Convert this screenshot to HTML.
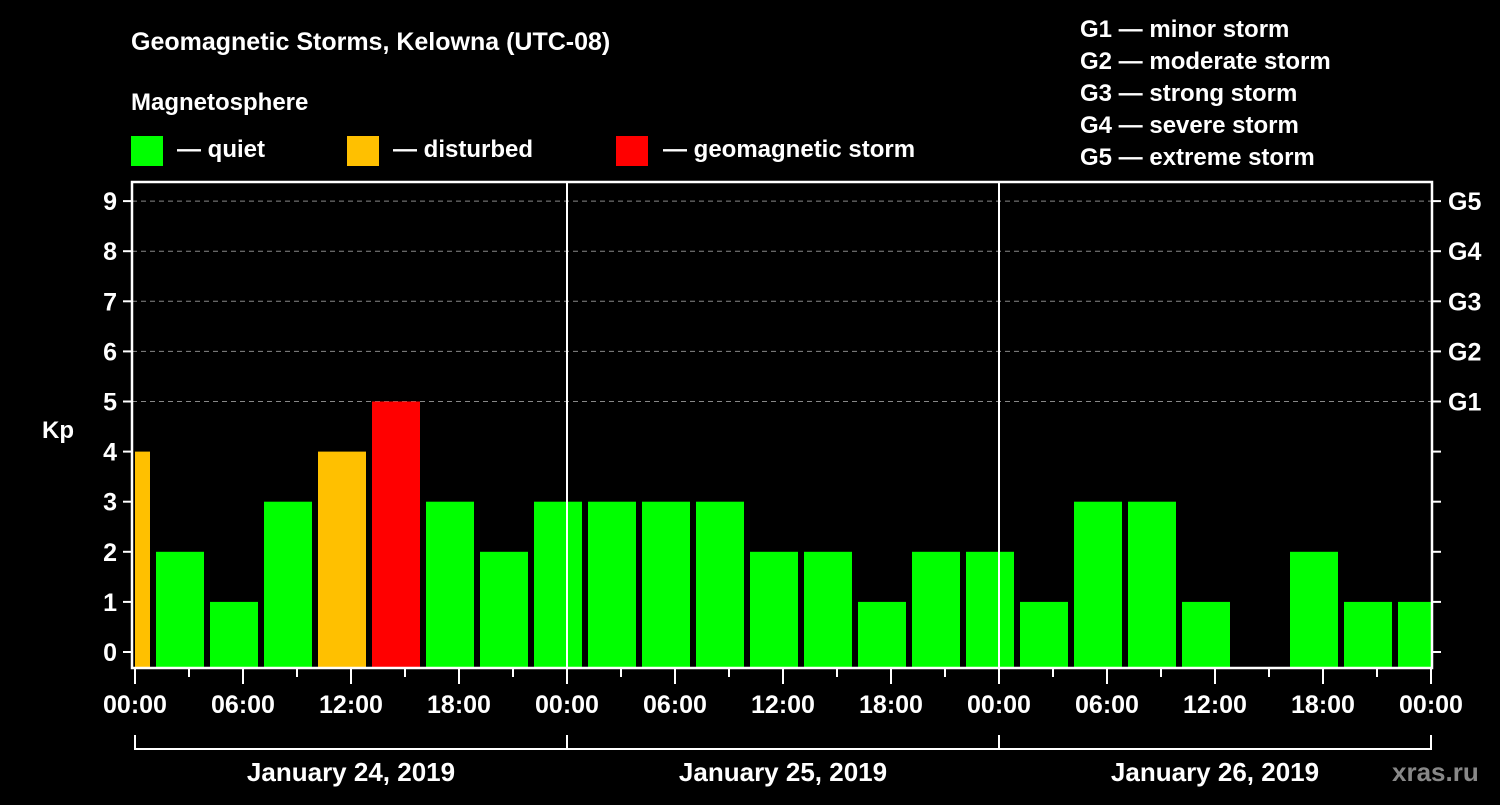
<!DOCTYPE html>
<html><head><meta charset="utf-8"><style>
body{margin:0;background:#000;width:1500px;height:800px;overflow:hidden}
svg text{font-family:"Liberation Sans",Arial,sans-serif;font-weight:bold;fill:#fff}
</style></head><body>
<svg id="chart" width="1500" height="800" viewBox="0 0 1500 800" xmlns="http://www.w3.org/2000/svg">
<rect width="1500" height="800" fill="#000"/>
<text x="131" y="50" font-size="25">Geomagnetic Storms, Kelowna (UTC-08)</text>
<text x="131" y="110" font-size="24">Magnetosphere</text>
<g>
<rect x="131" y="136" width="32" height="30" fill="#00ff00"/>
<text x="177" y="157" font-size="24">— quiet</text>
<rect x="347" y="136" width="32" height="30" fill="#ffc000"/>
<text x="393" y="157" font-size="24">— disturbed</text>
<rect x="616" y="136" width="32" height="30" fill="#ff0000"/>
<text x="663" y="157" font-size="24">— geomagnetic storm</text>
</g>
<g font-size="24">
<text x="1080" y="37">G1 — minor storm</text>
<text x="1080" y="69">G2 — moderate storm</text>
<text x="1080" y="101">G3 — strong storm</text>
<text x="1080" y="133">G4 — severe storm</text>
<text x="1080" y="165">G5 — extreme storm</text>
</g>
<text x="42" y="438" font-size="24">Kp</text>
<text x="1392" y="781" font-size="26" style="fill:#888">xras.ru</text>
<g id="plot"></g>
</svg>
<script>
const kpValues=[4,2,1,3,4,5,3,2,3,3,3,3,2,2,1,2,2,1,3,3,1,0,2,1,1];
const yTicks=[0,1,2,3,4,5,6,7,8,9];
const gLabels=["G1","G2","G3","G4","G5"];
const gLevels=[5,6,7,8,9];
const hourLabels=["00:00","06:00","12:00","18:00"];
const dayLabels=["January 24, 2019","January 25, 2019","January 26, 2019"];
const firstBarStartHour=-2;

const NS="http://www.w3.org/2000/svg";
const plot=document.getElementById('plot');
const L=132,R=1432,T=182,B=668,X0=135,PXH=18;
const xh=h=>X0+h*PXH;
const yk=k=>652-k*50.1;
function mk(tag,attrs,parent){const e=document.createElementNS(NS,tag);for(const k in attrs)e.setAttribute(k,attrs[k]);(parent||plot).appendChild(e);return e;}
const col=k=>k>=5?"#ff0000":(k>=4?"#ffc000":"#00ff00");
// grid
gLevels.forEach(k=>{const l=mk('line',{x1:L,x2:R,y1:yk(k),y2:yk(k),stroke:"#888","stroke-width":1,"stroke-dasharray":"5,4"});

});
// bars
const clip=mk('clipPath',{id:'pc'});mk('rect',{x:X0,y:T,width:1431-X0,height:B-T},clip);
const bg=mk('g',{'clip-path':'url(#pc)'});
kpValues.forEach((k,i)=>{if(k<=0)return;const h0=firstBarStartHour+i*3;
const x=xh(h0)+3,w=3*PXH-6,y=yk(k);
const r=mk('rect',{x:x,y:y,width:w,height:B-1-y,fill:col(k)},bg);

});
// day separators
[1,2].forEach(d=>{const l=mk('line',{x1:xh(d*24),x2:xh(d*24),y1:T,y2:B,stroke:"#fff","stroke-width":2});

});
// frame
const f=mk('rect',{x:L,y:T,width:R-L,height:B-T,fill:"none",stroke:"#fff","stroke-width":2.5});


// y ticks
yTicks.forEach(k=>{mk('line',{x1:L-9,x2:L,y1:yk(k),y2:yk(k),stroke:"#fff","stroke-width":2});
mk('line',{x1:R,x2:R+9,y1:yk(k),y2:yk(k),stroke:"#fff","stroke-width":2});
const t=mk('text',{x:L-15,y:yk(k)+9,"font-size":25,"text-anchor":"end"});t.textContent=k;

});
gLabels.forEach((g,i)=>{const t=mk('text',{x:1448,y:yk(gLevels[i])+9,"font-size":25});t.textContent=g;

});
// x ticks
for(let h=0;h<=72;h+=3){const major=h%6===0;
mk('line',{x1:xh(h),x2:xh(h),y1:B,y2:B+(major?16:9),stroke:"#fff","stroke-width":2});
if(major){const t=mk('text',{x:xh(h),y:B+45,"font-size":25,"text-anchor":"middle"});t.textContent=hourLabels[(h/6)%4];

}}
// day brackets
dayLabels.forEach((d,i)=>{const a=xh(i*24),b=xh((i+1)*24);
mk('path',{d:`M${a},735 V749 H${b} V735`,fill:"none",stroke:"#fff","stroke-width":2});
const t=mk('text',{x:(a+b)/2,y:781,"font-size":26,"text-anchor":"middle"});t.textContent=d;

});
</script>
</body></html>
